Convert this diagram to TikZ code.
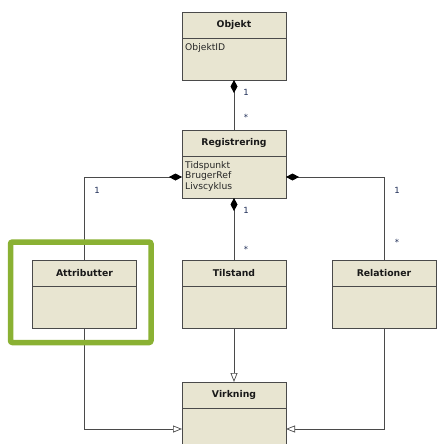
\documentclass[tikz,border=0pt]{standalone}
\usepackage{fontspec}
\setmainfont{DejaVu Sans}
\usetikzlibrary{positioning,arrows.meta}
\definecolor{boxfill}{HTML}{E8E5D1}
\definecolor{boxline}{HTML}{4A4A4A}
\definecolor{multcol}{HTML}{1C2B55}
\definecolor{hilite}{HTML}{8AB133}
\begin{document}
\begin{tikzpicture}[x=1pt, y=-1pt,
  head/.style={draw=boxline, fill=boxfill, line width=0.8pt, outer sep=0pt, inner sep=0pt,
    minimum width=104pt, minimum height=26pt, text=black!90, font=\fontsize{9.3}{10}\selectfont\bfseries},
  body/.style={draw=boxline, fill=boxfill, line width=0.8pt, outer sep=0pt, inner sep=0pt,
    minimum width=104pt, minimum height=42pt},
  attr/.style={anchor=north west, inner sep=0pt, align=left, text=black!85, font=\fontsize{9.2}{10.6}\selectfont},
  mult/.style={text=multcol, inner sep=0pt, font=\fontsize{8.5}{9}\selectfont},
  link/.style={draw=boxline, line width=0.7pt},
  comp/.style={link, {Diamond[length=13pt, width=7pt, color=black]}-},
  gen/.style={link, -{Triangle[open, length=9pt, width=7pt, fill=white]}}
]
  \useasboundingbox (0,0) rectangle (436,444);

  % classes
  \node[head] (objh) at (234,25) {Objekt};
  \node[body, below=0pt of objh] (objb) {};
  \node[attr] (objid) at ([shift={(3pt,-5pt)}]objb.north west) {ObjektID};

  \node[head] (regh) at (234,143) {Registrering};
  \node[body, below=0pt of regh] (regb) {};
  \node[attr] (regattr) at ([shift={(3pt,-5pt)}]regb.north west) {Tidspunkt\\BrugerRef\\Livscyklus};

  \node[head] (attrh) at (84.5,273) {Attributter};
  \node[body, below=0pt of attrh] (attrb) {};

  \node[head] (tilh) at (234,273.5) {Tilstand};
  \node[body, below=0pt of tilh] (tilb) {};

  \node[head] (relh) at (384,273) {Relationer};
  \node[body, below=0pt of relh] (relb) {};

  \node[head] (virh) at (234,395) {Virkning};
  \node[body, below=0pt of virh] (virb) {};

  % compositions
  \draw[comp] (objb.south) -- (regh.north);
  \node[mult] (om) at (246,92) {1};
  \node[mult] (rm) at (246,117) {*};

  \draw[comp] (regb.west) -| (attrh.north);
  \node[mult] (am) at (97,190) {1};

  \draw[comp] (regb.east) -| (relh.north);
  \node[mult] (rr1) at (397,190) {1};
  \node[mult] (rr2) at (397,242) {*};

  \draw[comp] (regb.south) -- (tilh.north);
  \node[mult] (tm1) at (246,210) {1};
  \node[mult] (tm2) at (246,249) {*};

  % generalisations
  \draw[gen] (tilb.south) -- (virh.north);
  \draw[gen] (attrb.south) |- (virb.west);
  \draw[gen] (relb.south) |- (virb.east);

  % highlight
  \draw[hilite, line width=5.5pt, rounded corners=2pt] (10.5,242) rectangle (151,342.5);
\end{tikzpicture}
\end{document}
